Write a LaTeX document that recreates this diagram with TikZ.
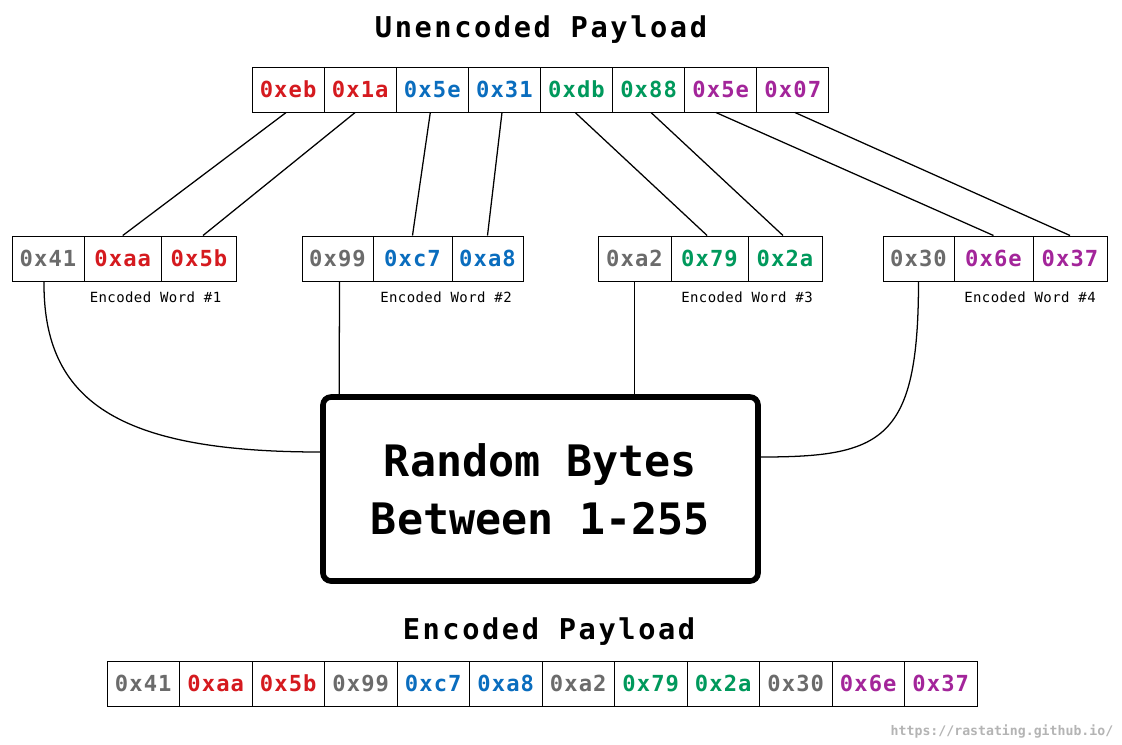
\documentclass[tikz,border=0pt]{standalone}
\usepackage{fontspec}
\newfontfamily\dmono{DejaVu Sans Mono}
\newfontfamily\cellfont[LetterSpace=5]{DejaVu Sans Mono}
\newfontfamily\titlefont[LetterSpace=9]{DejaVu Sans Mono}
\newfontfamily\wordfont[LetterSpace=3]{DejaVu Sans Mono}
\usetikzlibrary{calc}
\definecolor{cgray}{HTML}{6B6B6B}
\definecolor{cred}{HTML}{D51A1F}
\definecolor{cblue}{HTML}{0A6DBE}
\definecolor{cgreen}{HTML}{00995C}
\definecolor{cpurple}{HTML}{A3259A}
\definecolor{curl}{HTML}{B4B4B4}
\tikzset{
  cell/.style={draw=black, line width=0.75pt, minimum height=45*0.75pt, inner sep=0pt,
    font=\cellfont\bfseries\fontsize{16.6}{18}\selectfont, minimum width=#1*0.75pt},
  cell/.default=72.5,
  conn/.style={line width=0.95pt},
  wordlabel/.style={font=\wordfont\fontsize{10.5}{12}\selectfont, inner sep=0pt},
  titlelabel/.style={font=\titlefont\bfseries\fontsize{21.5}{24}\selectfont, anchor=base, inner sep=0pt},
  randbox/.style={draw=black, line width=4.2pt, rounded corners=6pt, fill=white,
    minimum width=435*0.75pt, minimum height=184*0.75pt, align=center, inner sep=0pt,
    font=\dmono\bfseries\fontsize{32.5}{43.7}\selectfont},
}
\begin{document}
\begin{tikzpicture}[x=0.75pt, y=-0.75pt]
\fill[white] (0,0) rectangle (1122,744);
\useasboundingbox (0,0) rectangle (1122,744);

% title
\node[titlelabel] (tt) at (541,37) {Unencoded Payload};

% unencoded row
\node[cell=72.1, text=cred]    (t1) at (288.1,89.5) {0xeb};
\node[cell=72.1, text=cred]    (t2) at (360.2,89.5) {0x1a};
\node[cell=72.1, text=cblue]   (t3) at (432.3,89.5) {0x5e};
\node[cell=72.1, text=cblue]   (t4) at (504.4,89.5) {0x31};
\node[cell=72.1, text=cgreen]  (t5) at (576.5,89.5) {0xdb};
\node[cell=72.1, text=cgreen]  (t6) at (648.6,89.5) {0x88};
\node[cell=72.1, text=cpurple] (t7) at (720.7,89.5) {0x5e};
\node[cell=72.1, text=cpurple] (t8) at (792.8,89.5) {0x07};

% encoded words
\node[cell=72,   text=cgray]   (a1) at (48,258.5)    {0x41};
\node[cell=77.5, text=cred]    (a2) at (122.75,258.5) {0xaa};
\node[cell=75,   text=cred]    (a3) at (199,258.5)   {0x5b};
\node[cell=71,   text=cgray]   (b1) at (337.5,258.5) {0x99};
\node[cell=79,   text=cblue]   (b2) at (412.5,258.5) {0xc7};
\node[cell=71,   text=cblue]   (b3) at (487.5,258.5) {0xa8};
\node[cell=73,   text=cgray]   (c1) at (634.5,258.5) {0xa2};
\node[cell=77,   text=cgreen]  (c2) at (709.5,258.5) {0x79};
\node[cell=74,   text=cgreen]  (c3) at (785,258.5)   {0x2a};
\node[cell=71,   text=cgray]   (d1) at (918.5,258.5) {0x30};
\node[cell=79,   text=cpurple] (d2) at (993.5,258.5) {0x6e};
\node[cell=74,   text=cpurple] (d3) at (1070,258.5)  {0x37};

\node[wordlabel] (l1) at (155.5,297)  {Encoded Word \#1};
\node[wordlabel] (l2) at (446,297)    {Encoded Word \#2};
\node[wordlabel] (l3) at (747,297)    {Encoded Word \#3};
\node[wordlabel] (l4) at (1030,297)   {Encoded Word \#4};

% random box
\node[randbox] (rb) at (540.5,489) {Random Bytes\\Between 1-255};

% payload to word connectors
\draw[conn] ([xshift=-1.5pt]t1.south) -- (a2.north);
\draw[conn] ([xshift=-3.8pt]t2.south) -- ([xshift=3pt]a3.north);
\draw[conn] ([xshift=-1.5pt]t3.south) -- (b2.north);
\draw[conn] ([xshift=-1.8pt]t4.south) -- (b3.north);
\draw[conn] ([xshift=-1pt]t5.south) -- ([xshift=-1.8pt]c2.north);
\draw[conn] ([xshift=1.8pt]t6.south) -- ([xshift=-1.5pt]c3.north);
\draw[conn] ([xshift=-3.6pt]t7.south) -- (d2.north);
\draw[conn] ([xshift=1.6pt]t8.south) -- (d3.north);

% random bytes connectors
\draw[conn] ([xshift=-3pt]a1.south) .. controls +(-1,119) and +(-203,0) .. ($(rb.west)+(0,-37)$);
\draw[conn] ([xshift=1.5pt]b1.south) -- ($(rb.north west)+(19,0)$);
\draw[conn] (c1.south) -- (c1.south |- rb.north);
\draw[conn] (d1.south) .. controls +(0,159) and +(122,0) .. ($(rb.east)+(0,-32)$);

% encoded payload
\node[titlelabel] (bt) at (549,639) {Encoded Payload};
\foreach \t/\c [count=\i from 0] in {0x41/cgray,0xaa/cred,0x5b/cred,0x99/cgray,0xc7/cblue,0xa8/cblue,0xa2/cgray,0x79/cgreen,0x2a/cgreen,0x30/cgray,0x6e/cpurple,0x37/cpurple}
  \node[cell=72.5, text=\c] (e\i) at ({107+72.5*(\i+0.5)},683.5) {\t};

\node[font=\dmono\bfseries\fontsize{9.9}{11}\selectfont, text=curl, inner sep=0pt] (url) at (1002,731) {https://rastating.github.io/};
\end{tikzpicture}
\end{document}
